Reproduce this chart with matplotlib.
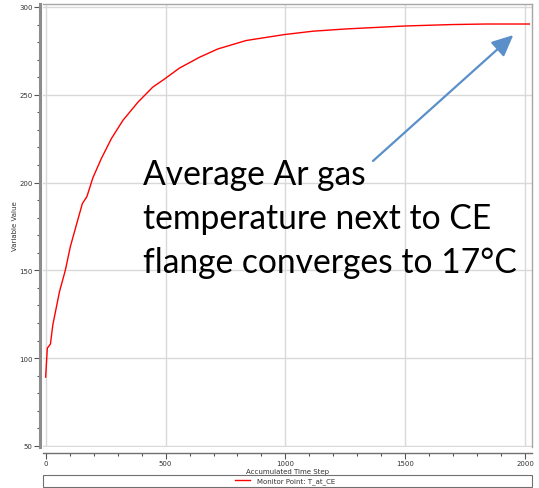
import matplotlib.pyplot as plt
from matplotlib.patches import Rectangle
from matplotlib.ticker import MultipleLocator

# Monitor point readings
steps = [0, 7, 20, 30, 58, 82, 103, 128, 153, 172, 197, 232, 274, 322, 385,
         447, 496, 558, 642, 718, 836, 996, 1114, 1253, 1503, 1697, 1836, 2017]
values = [89.2, 105.7, 108, 119, 138, 150, 163.5, 175.8, 188, 192, 202.7,
          213.6, 225, 235.4, 245.8, 254.4, 259, 265.2, 271.4, 276.1, 280.9,
          284.3, 286.2, 287.5, 289.2, 290, 290.3, 290.3]
series_label = 'Monitor Point: T_at_CE'
note_lines = ['Average Ar gas', 'temperature next to CE', 'flange converges to 17\u00b0C']

W, H = 539, 489
fig = plt.figure(figsize=(W / 100, H / 100), dpi=100)
ax = fig.add_axes([43 / W, 1 - 448 / H, (532 - 43) / W, (448 - 5) / H])

line, = ax.plot(steps, values, color='red', linewidth=1.0, label=series_label)

ax.set_xlim(-11, 2028)
ax.set_ylim(49.4, 301.7)
ax.xaxis.set_major_locator(MultipleLocator(500))
ax.xaxis.set_minor_locator(MultipleLocator(100))
ax.yaxis.set_major_locator(MultipleLocator(50))
ax.yaxis.set_minor_locator(MultipleLocator(10))
ax.grid(True, which='major', color='#d9d9d9', linewidth=1.0)
ax.set_axisbelow(True)

# axis styling, looks like the old CFX monitor plot
for side in ['top', 'right']:
    ax.spines[side].set_color('#a6a6a6')
    ax.spines[side].set_linewidth(1.0)
ax.spines['left'].set_position(('outward', 2))
ax.spines['left'].set_color('#8c8c8c')
ax.spines['left'].set_linewidth(2.2)
ax.spines['bottom'].set_position(('outward', 4))
ax.spines['bottom'].set_color('#707070')
ax.spines['bottom'].set_linewidth(1.0)
ax.tick_params(which='both', direction='out', colors='#555555', labelsize=5, pad=1.5)
ax.tick_params(which='major', length=4, width=0.8)
ax.tick_params(which='minor', length=2, width=0.8)
ax.tick_params(axis='both', labelcolor='#333333')

ax.set_xlabel('Accumulated Time Step', fontsize=5, color='#333333', labelpad=1)
ax.set_ylabel('Variable Value', fontsize=5, color='#333333', labelpad=1)

# annotation text + arrow
baselines = [199.2, 174.1, 149.1]
for txt, yb in zip(note_lines, baselines):
    ax.text(406, yb, txt, fontsize=24.2, family=['Lato', 'DejaVu Sans'],
            color='black', va='baseline', ha='left')
ax.annotate('', xy=(1950, 284), xytext=(1365, 212.3),
            arrowprops=dict(arrowstyle='-|>,head_length=1.3,head_width=0.6',
                            color='#5b8fc9', linewidth=1.6, shrinkA=0, shrinkB=0))

# legend box under the plot
fig.patches.append(Rectangle((43 / W, 1 - 488 / H), (532 - 43) / W, 12 / H,
                             transform=fig.transFigure, fill=False,
                             edgecolor='#707070', linewidth=0.8))
fig.legend(handles=[line], loc='center', bbox_to_anchor=(285 / W, 1 - 482 / H),
           frameon=False, fontsize=5, handlelength=2.2, handletextpad=1.0,
           borderpad=0, labelcolor='#333333')

plt.savefig('out.png', dpi=100)
